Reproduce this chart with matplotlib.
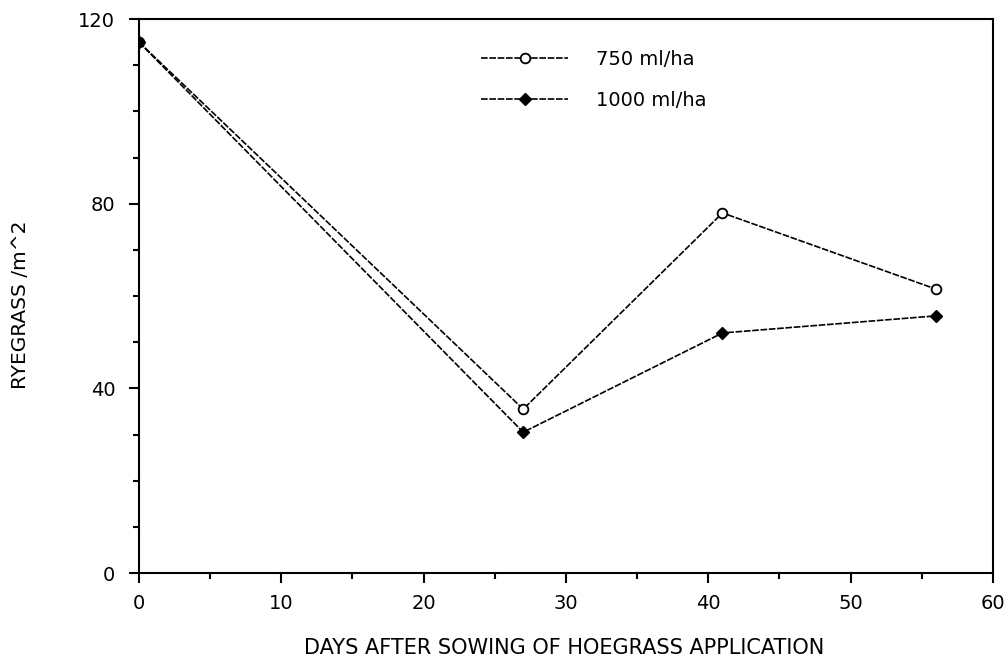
import matplotlib
matplotlib.use("Agg")
import matplotlib.pyplot as plt
from matplotlib.ticker import MultipleLocator

days = [0, 27, 41, 56]
rate_750 = [115, 35.5, 78, 61.5]
rate_1000 = [115, 30.5, 52, 55.7]
labels = ["750 ml/ha", "1000 ml/ha"]

plt.rcParams['font.family'] = ['DejaVu Sans']

fig = plt.figure(figsize=(10.07, 6.63), dpi=100)
ax = fig.add_axes([0.138, 0.1357, 0.848, 0.8356])

dash = (0, (4, 1))
ax.plot(days, rate_750, color='black', lw=1.2, linestyle=dash, marker='o',
        markersize=7, markerfacecolor='white', markeredgecolor='black',
        markeredgewidth=1.3, label=labels[0])
ax.plot(days, rate_1000, color='black', lw=1.2, linestyle=dash, marker='D',
        markersize=6, markerfacecolor='black', markeredgecolor='black',
        label=labels[1])

ax.set_xlim(0, 60)
ax.set_ylim(0, 120)
ax.xaxis.set_major_locator(MultipleLocator(10))
ax.xaxis.set_minor_locator(MultipleLocator(5))
ax.yaxis.set_major_locator(MultipleLocator(40))
ax.yaxis.set_minor_locator(MultipleLocator(10))

for s in ax.spines.values():
    s.set_linewidth(1.5)
ax.tick_params(which='major', direction='out', length=7, width=1.5,
               labelsize=14, pad=8)
ax.tick_params(which='minor', direction='out', length=4, width=1.5)
ax.tick_params(axis='y', pad=10)

ax.set_xlabel("DAYS AFTER SOWING OF HOEGRASS APPLICATION", fontsize=15)
ax.xaxis.set_label_coords(0.498, -0.118)
ax.set_ylabel("RYEGRASS /m^2", fontsize=14.5)
ax.yaxis.set_label_coords(-0.128, 0.484)

leg = ax.legend(loc='upper left', bbox_to_anchor=(0.380, 0.976), frameon=False,
                fontsize=14, handlelength=4.5, handletextpad=1.4,
                labelspacing=1.15)

fig.savefig("out.png", dpi=100)
